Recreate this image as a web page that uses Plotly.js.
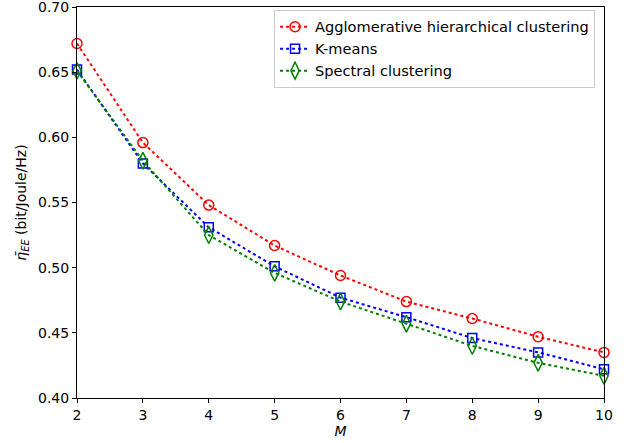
<!DOCTYPE html>
<html>
<head>
<meta charset="utf-8">
<script src="https://cdn.plot.ly/plotly-3.0.1.min.js"></script>
<style>html,body{margin:0;padding:0;background:#fff;}#chart{width:634px;height:443px;}</style>
</head>
<body>
<div id="chart"></div>
<script>
const M = [2, 3, 4, 5, 6, 7, 8, 9, 10];
const agglomerative = [0.672, 0.596, 0.548, 0.517, 0.494, 0.474, 0.461, 0.447, 0.435];
const kmeans = [0.652, 0.580, 0.531, 0.501, 0.477, 0.462, 0.446, 0.435, 0.422];
const spectral = [0.651, 0.582, 0.525, 0.496, 0.474, 0.457, 0.440, 0.427, 0.417];
const seriesNames = ["Agglomerative hierarchical clustering", "K-means", "Spectral clustering"];
const yTicks = [0.40, 0.45, 0.50, 0.55, 0.60, 0.65, 0.70];

const font = "DejaVu Sans, sans-serif";
function tr(y, name, color, symbol, size) {
  return {
    x: M, y: y, name: name, type: "scatter", mode: "lines+markers",
    line: {color: color, dash: "dot", width: 2},
    marker: {symbol: symbol, size: size, color: color, line: {color: color, width: 1.5}},
    cliponaxis: false
  };
}
const data = [
  tr(agglomerative, seriesNames[0], "red", "circle-open", 10),
  tr(kmeans, seriesNames[1], "blue", "square-open", 9),
  tr(spectral, seriesNames[2], "green", "diamond-tall-open", 12)
];
const layout = {
  width: 634, height: 443,
  margin: {l: 77, r: 30, t: 7, b: 45},
  paper_bgcolor: "#fff", plot_bgcolor: "#fff",
  font: {family: font, size: 14, color: "#000"},
  showlegend: true,
  legend: {x: 0.983, y: 0.993, xanchor: "right", yanchor: "top",
    bgcolor: "rgba(255,255,255,0.8)", bordercolor: "#cccccc", borderwidth: 1,
    font: {family: font, size: 14.6}, tracegroupgap: 0},
  xaxis: {range: [2, 10], tickvals: M, ticks: "outside", ticklen: 4, tickcolor: "#000",
    showline: true, linecolor: "#000", linewidth: 1, mirror: true, showgrid: false, zeroline: false,
    title: {text: "<i>M</i>", font: {family: font, size: 14}, standoff: 2}},
  yaxis: {range: [0.40, 0.70001], tickvals: yTicks, tickformat: ".2f", ticks: "outside", ticklen: 4, tickcolor: "#000",
    ticklabeloverflow: "allow",
    showline: true, linecolor: "#000", linewidth: 1, mirror: true, showgrid: false, zeroline: false,
    title: {text: "<i>η̄</i><sub><i>EE</i></sub> (bit/Joule/Hz)", font: {family: font, size: 14}, standoff: 8}}
};
Plotly.newPlot("chart", data, layout, {displayModeBar: false, staticPlot: true});
</script>
</body>
</html>
